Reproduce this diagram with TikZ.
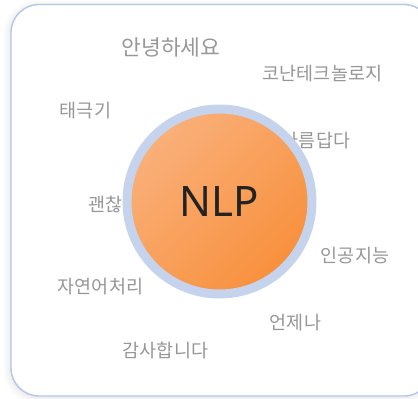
\documentclass[tikz,border=0pt]{standalone}
\usepackage{fontspec}
\setmainfont{Noto Sans CJK KR}
\newfontfamily\hubfont{Noto Sans}
\usepackage{tikz}
\usetikzlibrary{shapes,shadows.blur,positioning}
\definecolor{clrBorders}{HTML}{B3C6EA}
\definecolor{clrRing}{HTML}{C5D3EC}
\definecolor{clrWord}{HTML}{979797}
\definecolor{clrHubA}{HTML}{F9B07A}
\definecolor{clrHubB}{HTML}{F8903C}
\definecolor{clrHubFnt}{HTML}{232323}
\tikzstyle{panel}=[draw=clrBorders, line width=1.4pt, rounded corners=28pt, fill=white,
blur shadow={shadow xshift=-1.5pt, shadow yshift=-1.5pt, shadow blur radius=7pt, shadow opacity=12}]
\tikzstyle{word}=[text=clrWord, font=\fontsize{18.5}{18.5}\selectfont, inner sep=0,
text height=14pt, text depth=0pt, anchor=center]
\tikzstyle{bigword}=[word, font=\fontsize{21.5}{21.5}\selectfont, text height=16.3pt]
\tikzstyle{hub}=[circle, draw=clrRing, line width=9pt, minimum size=185pt, inner sep=0,
top color=clrHubA, bottom color=clrHubB, shading angle=45, text=clrHubFnt,
font=\hubfont\fontsize{42}{42}\selectfont, text height=30pt, text depth=0pt]

\begin{document}
\begin{tikzpicture}[x=1pt, y=-1pt]
		\useasboundingbox (0,0) rectangle (418,399) ;
		\clip (0,0) rectangle (418,399) ;

		% card behind the words
		\draw[panel] (11,4.5) rectangle (432,396) ;

		% words round the hub
		\node[bigword] (hello) at (171,47.5) {안녕하세요} ;
		\node[word] (konan) at (322.5,73.5) {코난테크놀로지} ;
		\node[word] (flag) at (85.5,110.5) {태극기} ;
		\node[word] (pretty) at (316,140) {아름답다} ;
		\node[word] (okay) at (114,204) {괜찮아} ;
		\node[word] (ai) at (355,255.5) {인공지능} ;
		\node[word] (nlproc) at (100.5,286.5) {자연어처리} ;
		\node[word] (always) at (295.5,322.5) {언제나} ;
		\node[word] (thanks) at (165.5,350.5) {감사합니다} ;

		% the hub sits on top
		\node[hub] (nlp) at (219.5,201.5) {NLP} ;
	\end{tikzpicture}
\end{document}
